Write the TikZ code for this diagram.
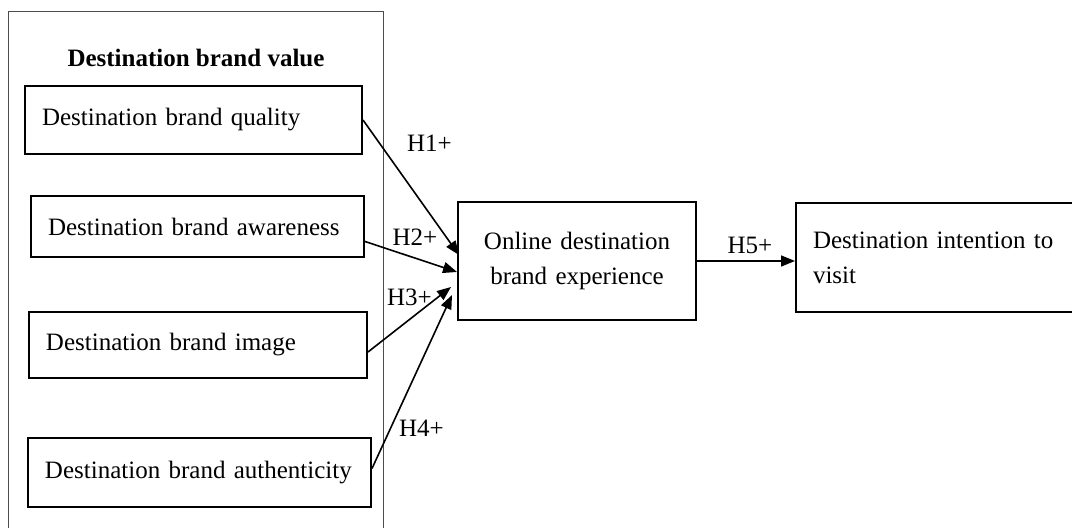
\documentclass[tikz,border=0pt]{standalone}
\usepackage{fontspec}
\setmainfont{Liberation Serif}
\usetikzlibrary{arrows.meta, positioning}

\begin{document}
\begin{tikzpicture}[
    x=0.5pt, y=-0.5pt,
    box/.style={draw, line width=1pt, anchor=west, inner xsep=8.5pt, align=left,
                font=\fontsize{12.5}{17.5}\selectfont},
    ctrbox/.style={draw, line width=1pt, align=center,
                   font=\fontsize{12.5}{17.5}\selectfont},
    arr/.style={-{Triangle[length=7pt, width=5.5pt]}, line width=0.8pt},
    hyp/.style={font=\fontsize{12.5}{15}\selectfont},
    frame/.style={draw=black!70, line width=0.5pt}
]
\clip (0,0) rectangle (1072,528);

% ---- Destination brand value group ----
\draw[frame] (8,12) rectangle (383,560);
\node[font=\fontsize{12.5}{15}\selectfont\bfseries] (dbv) at (196,58) {Destination brand value};

\node[box, text width=151.5pt, minimum height=34pt] (qual) at (24,120) {Destination brand quality};
\node[box, text width=149.5pt, minimum height=30.5pt] (aware) at (30,226.5) {Destination brand awareness};
\node[box, text width=152pt, minimum height=33pt] (image) at (28,345) {Destination brand image};
\node[box, text width=154.5pt, minimum height=34.5pt] (auth) at (27,472.5) {Destination brand authenticity};

% ---- Mediator and outcome ----
\node[ctrbox, text width=102pt, minimum width=119pt, minimum height=59pt] (exp) at (577,261)
    {Online destination\\brand experience};
\node[box, text width=124pt, minimum height=54.5pt] (dest) at (795,257.5)
    {Destination intention to visit};

% ---- Hypotheses ----
\draw[arr] (qual.east) -- ([shift={(1pt,3pt)}]exp.west);
\draw[arr] ([yshift=-7.5pt]aware.east) -- ([yshift=-5.5pt]exp.west);
\draw[arr] ([yshift=-3.5pt]image.east) -- ([shift={(-3pt,-13pt)}]exp.west);
\draw[arr] ([yshift=2pt]auth.east) -- ([shift={(-2.5pt,-17pt)}]exp.west);
\draw[arr] (exp.east) -- (exp.east -| dest.west);

\node[hyp] (lh1) at (429.5,143) {H1+};
\node[hyp] (lh2) at (415,237) {H2+};
\node[hyp] (lh3) at (409.5,297) {H3+};
\node[hyp] (lh4) at (421.5,428) {H4+};
\node[hyp] (lh5) at (750,245) {H5+};

\end{tikzpicture}
\end{document}
